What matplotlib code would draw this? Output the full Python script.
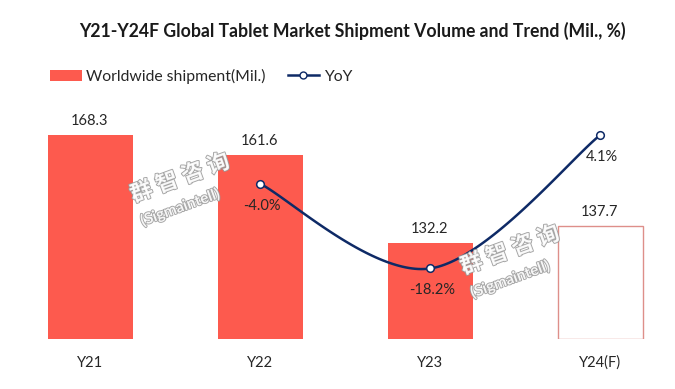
import numpy as np
import matplotlib
matplotlib.use("Agg")
import matplotlib.pyplot as plt
from matplotlib.patches import Patch
from matplotlib.lines import Line2D
import matplotlib.patheffects as pe

plt.rcParams['font.family'] = ['Lato', 'DejaVu Sans']

categories = ["Y21", "Y22", "Y23", "Y24(F)"]
shipments = [168.3, 161.6, 132.2, 137.7]
yoy_cats = ["Y22", "Y23", "Y24(F)"]
yoy = [-4.0, -18.2, 4.1]
title = "Y21-Y24F Global Tablet Market Shipment Volume and Trend (Mil., %)"

bar_color = "#FD5A4E"
fc_edge = "#DE8F8A"
line_color = "#0E2A66"
text_color = "#262626"

fig = plt.figure(figsize=(6.75, 3.89), dpi=100)
ax = fig.add_axes([10/675, 1-339/389, 655/675, 239/389])
x = np.arange(len(categories))
for i, v in enumerate(shipments):
    if i == len(shipments) - 1:
        ax.bar(x[i], v - 100, bottom=100, width=0.5, facecolor="white",
               edgecolor=fc_edge, linewidth=1.0, zorder=2)
    else:
        ax.bar(x[i], v - 100, bottom=100, width=0.5, color=bar_color, zorder=2)
    ax.text(x[i], v + 2.3, f"{v:.1f}", ha="center", va="bottom",
            fontsize=10.5, color=text_color)

ax.set_xlim(-80/170, 3 + 65/170)
ax.set_ylim(100, 180)
ax.set_xticks(x)
ax.set_xticklabels(categories, fontsize=10.5, color=text_color)
ax.tick_params(axis="x", length=0, pad=12)
ax.set_yticks([])
for s in ax.spines.values():
    s.set_visible(False)

ax2 = ax.twinx()
ax2.set_ylim(-30, 10)
ax2.set_yticks([])
for s in ax2.spines.values():
    s.set_visible(False)

# smoothed line (Catmull-Rom through the data points)
xi = np.array([categories.index(c) for c in yoy_cats], dtype=float)
yi = np.array(yoy, dtype=float)
P = np.column_stack([xi, yi])
Pext = np.vstack([P[0], P, P[-1]])
xs, ys = [], []
t = np.linspace(0, 1, 60)
for k in range(1, len(Pext) - 2):
    p0, p1, p2, p3 = Pext[k-1], Pext[k], Pext[k+1], Pext[k+2]
    seg = 0.5 * ((2*p1)[None, :] + (-p0 + p2)[None, :]*t[:, None]
                 + (2*p0 - 5*p1 + 4*p2 - p3)[None, :]*t[:, None]**2
                 + (-p0 + 3*p1 - 3*p2 + p3)[None, :]*t[:, None]**3)
    xs.extend(seg[:, 0]); ys.extend(seg[:, 1])
ax2.plot(xs, ys, color=line_color, lw=1.8, zorder=3)
ax2.plot(xi, yi, ls="none", marker="o", ms=5.5, mfc="white",
         mec=line_color, mew=1.1, zorder=4)
for xv, yv in zip(xi, yi):
    ax2.text(xv + 0.01, yv - 2.5, f"{yv:.1f}%", ha="center", va="top",
             fontsize=10.5, color=text_color, zorder=5)

# watermark
for (wx, wy) in [(180/675, 1-190/389), (510/675, 1-262/389)]:
    fig.text(wx, wy + 0.03, "群 智 咨 询", fontsize=16, fontweight="bold",
             family=["Noto Sans CJK SC", "DejaVu Sans"], rotation=20,
             ha="center", va="center", color="white", alpha=0.9,
             path_effects=[pe.withStroke(linewidth=1.3, foreground="#9a9a9a")], zorder=10)
    fig.text(wx, wy - 0.045, "(Sigmaintell)", fontsize=11, fontweight="bold",
             rotation=20, ha="center", va="center", color="white", alpha=0.9,
             path_effects=[pe.withStroke(linewidth=1.3, foreground="#9a9a9a")], zorder=10)

fig.text(352/675, 1-31/389, title, ha="center", va="center",
         fontsize=12.7, fontweight="bold", color="#1a1a1a")

handles = [Patch(facecolor=bar_color, edgecolor="none"),
           Line2D([0], [0], color=line_color, lw=1.8, marker="o", ms=5,
                  mfc="white", mec=line_color)]
fig.legend(handles, ["Worldwide shipment(Mil.)", "YoY"], loc="center left",
           bbox_to_anchor=(36/675, 1-76/389), ncol=2, frameon=False,
           fontsize=11.3, handlelength=2.0, handletextpad=0.3,
           columnspacing=1.4, labelcolor=text_color)

fig.savefig("out.png", dpi=100)
